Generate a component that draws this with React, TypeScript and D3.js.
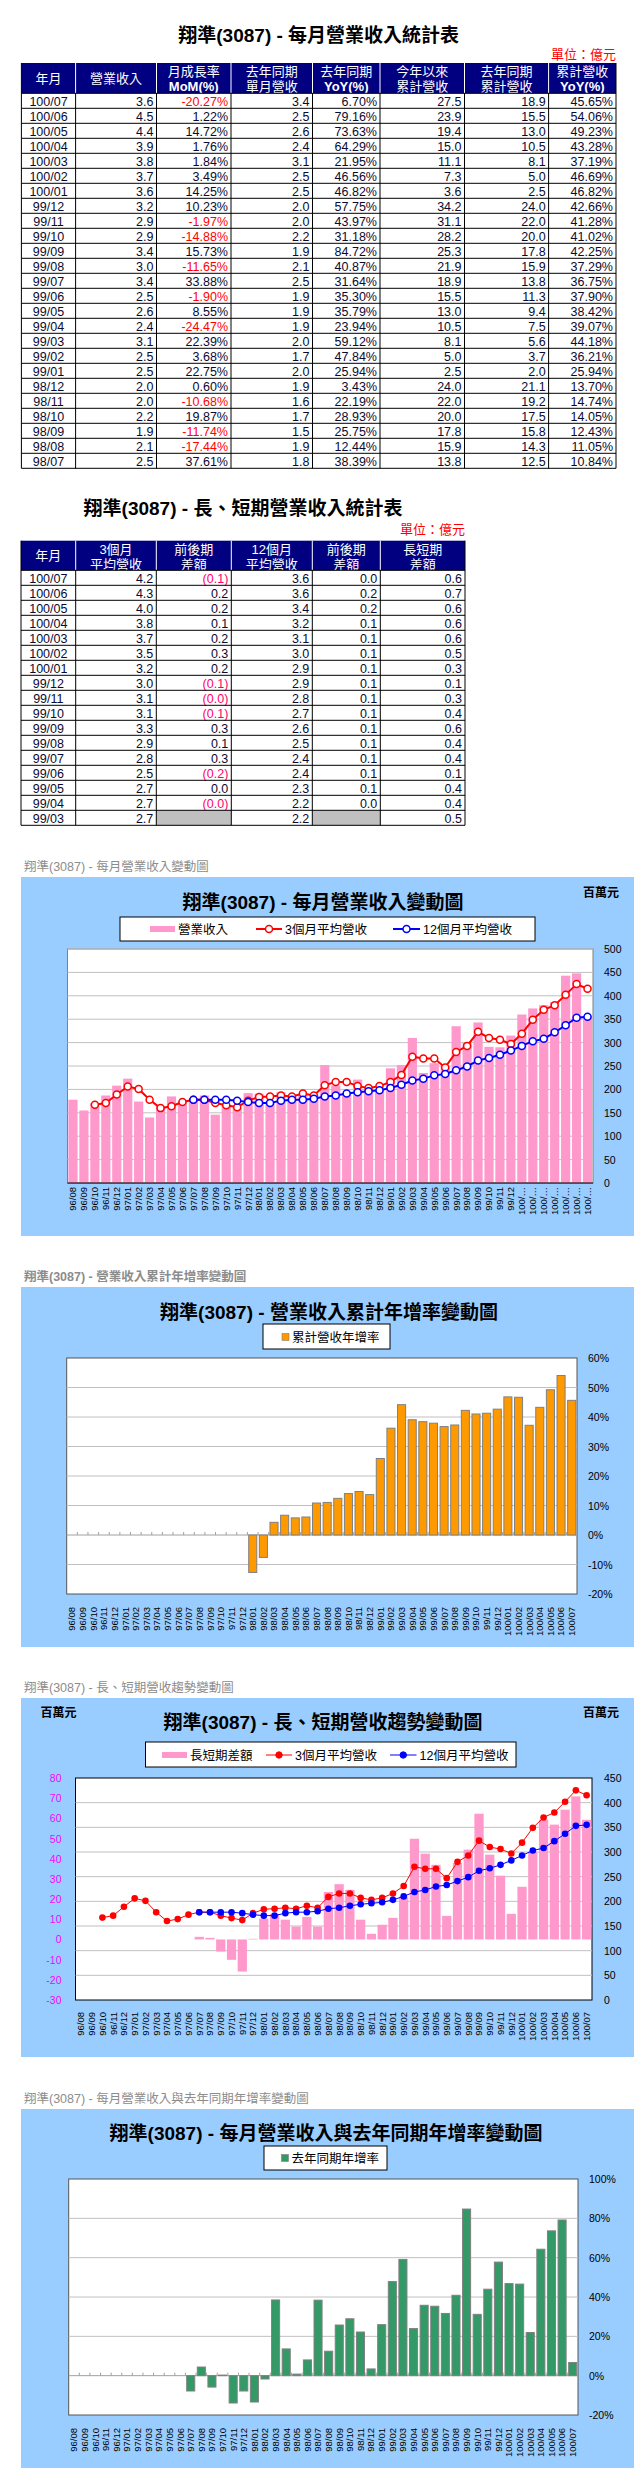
import React from 'react';
import * as d3 from 'd3';

// ---- table data (億元) ----
const t1Months = ['100/07','100/06','100/05','100/04','100/03','100/02','100/01','99/12','99/11','99/10','99/09','99/08','99/07','99/06','99/05','99/04','99/03','99/02','99/01','98/12','98/11','98/10','98/09','98/08','98/07'];
const t1Rev = [3.6,4.5,4.4,3.9,3.8,3.7,3.6,3.2,2.9,2.9,3.4,3.0,3.4,2.5,2.6,2.4,3.1,2.5,2.5,2.0,2.0,2.2,1.9,2.1,2.5];
const t1Mom = [-20.27,1.22,14.72,1.76,1.84,3.49,14.25,10.23,-1.97,-14.88,15.73,-11.65,33.88,-1.90,8.55,-24.47,22.39,3.68,22.75,0.60,-10.68,19.87,-11.74,-17.44,37.61];
const t1LastRev = [3.4,2.5,2.6,2.4,3.1,2.5,2.5,2.0,2.0,2.2,1.9,2.1,2.5,1.9,1.9,1.9,2.0,1.7,2.0,1.9,1.6,1.7,1.5,1.9,1.8];
const t1Yoy = [6.70,79.16,73.63,64.29,21.95,46.56,46.82,57.75,43.97,31.18,84.72,40.87,31.64,35.30,35.79,23.94,59.12,47.84,25.94,3.43,22.19,28.93,25.75,12.44,38.39];
const t1Cum = [27.5,23.9,19.4,15.0,11.1,7.3,3.6,34.2,31.1,28.2,25.3,21.9,18.9,15.5,13.0,10.5,8.1,5.0,2.5,24.0,22.0,20.0,17.8,15.9,13.8];
const t1LastCum = [18.9,15.5,13.0,10.5,8.1,5.0,2.5,24.0,22.0,20.0,17.8,15.9,13.8,11.3,9.4,7.5,5.6,3.7,2.0,21.1,19.2,17.5,15.8,14.3,12.5];
const t1CumYoy = [45.65,54.06,49.23,43.28,37.19,46.69,46.82,42.66,41.28,41.02,42.25,37.29,36.75,37.90,38.42,39.07,44.18,36.21,25.94,13.70,14.74,14.05,12.43,11.05,10.84];

const t2Months = t1Months.slice(0, 17);
const t2Avg3 = [4.2,4.3,4.0,3.8,3.7,3.5,3.2,3.0,3.1,3.1,3.3,2.9,2.8,2.5,2.7,2.7,2.7];
const t2Avg3Diff = [-0.1,0.2,0.2,0.1,0.2,0.3,0.2,-0.1,-0.04,-0.1,0.3,0.1,0.3,-0.2,0.02,-0.03,null];
const t2Avg12 = [3.6,3.6,3.4,3.2,3.1,3.0,2.9,2.9,2.8,2.7,2.6,2.5,2.4,2.4,2.3,2.2,2.2];
const t2Avg12Diff = [0.02,0.2,0.2,0.1,0.1,0.1,0.1,0.1,0.1,0.1,0.1,0.1,0.1,0.1,0.1,0.03,null];
const t2Gap = [0.6,0.7,0.6,0.6,0.6,0.5,0.3,0.1,0.3,0.4,0.6,0.4,0.4,0.1,0.4,0.4,0.5];

// ---- chart data (百萬元 / %) ----
const months = ['96/08','96/09','96/10','96/11','96/12',
  '97/01','97/02','97/03','97/04','97/05','97/06','97/07','97/08','97/09','97/10','97/11','97/12',
  '98/01','98/02','98/03','98/04','98/05','98/06','98/07','98/08','98/09','98/10','98/11','98/12',
  '99/01','99/02','99/03','99/04','99/05','99/06','99/07','99/08','99/09','99/10','99/11','99/12',
  '100/01','100/02','100/03','100/04','100/05','100/06','100/07'];
const revenue = [178,155,171,187,208,
  223,174,140,164,185,175,180,187,146,167,160,192,
  191,174,194,186,190,188,252,208,190,221,200,201,
  245,252,310,235,256,250,335,299,343,291,290,315,
  360,373,380,387,443,448,357];
const avg3 = [null,null,167,171,189,
  206,201,178,160,164,173,178,178,171,166,162,176,
  184,185,187,185,191,187,209,216,216,207,203,207,
  216,231,270,266,266,247,280,293,323,310,306,297,
  319,349,370,380,402,425,415];
const avg12 = [null,null,null,null,null,
  null,null,null,null,null,null,178,178,178,178,176,173,
  171,171,176,178,178,180,185,187,191,194,196,198,
  203,210,219,223,230,233,241,249,262,267,274,283,
  293,303,308,322,337,353,355];
const gap = [null,null,null,null,null,
  null,null,null,null,null,null,1.3,0.8,-6.0,-10.1,-15.9,0.3,
  10.4,12.6,9.8,6.4,11.2,6.4,23.5,27.4,24.6,9.8,2.8,7.3,
  10.7,21.3,49.9,42.5,37.0,11.7,37.9,44.5,62.3,42.0,31.6,12.7,
  26.1,43.6,59.3,56.9,64.3,70.9,59.3];
const cumYoy = [null,null,null,null,null,
  null,null,null,null,null,null,null,null,null,null,null,null,
  -12.7,-7.6,4.3,6.7,5.8,6.1,10.84,11.05,12.43,14.05,14.74,13.70,
  25.94,36.21,44.18,39.07,38.42,37.90,36.75,37.29,42.25,41.02,41.28,42.66,
  46.82,46.69,37.19,43.28,49.23,54.06,45.65];
const yoy = [null,null,null,null,null,
  null,null,null,null,null,null,-7.8,4.4,-5.8,0.3,-13.9,-7.8,
  -13.4,-1.7,38.5,13.6,0.8,8.0,38.39,12.44,25.75,28.93,22.19,3.43,
  25.94,47.84,59.12,23.94,35.79,35.30,31.64,40.87,84.72,31.18,43.97,57.75,
  46.82,46.56,21.95,64.29,73.63,79.16,6.70];

const revTicks = [0,50,100,150,200,250,300,350,400,450,500];
const cumTicks = [-20,-10,0,10,20,30,40,50,60];
const gapTicks = [-30,-20,-10,0,10,20,30,40,50,60,70,80];
const trendTicks = [0,50,100,150,200,250,300,350,400,450];
const yoyTicks = [-20,0,20,40,60,80,100];

const LATIN = "'Liberation Sans', Arial, sans-serif";
const MIXED = "'Liberation Sans', 'Noto Sans CJK TC', sans-serif";
const PANEL = '#99CCFF';
const PINK = '#FF99CC';
const TXT = '#0a0a30';

const f1 = (v: number) => v.toFixed(1);
const pct = (v: number) => v.toFixed(2) + '%';
const paren = (v: number) => (v < 0 ? `(${Math.abs(v).toFixed(1)})` : v.toFixed(1));

function Table({ x, top, headH, rowH, headers, cols, title, titleY, unitY }: any) {
  const right = x[x.length - 1];
  const n = cols[0].length;
  return (
    <g>
      <text x={(x[0] + right) / 2} y={titleY} textAnchor="middle" fontFamily={MIXED} fontSize={19} fontWeight="bold" fill="#000">{title}</text>
      <text x={right} y={unitY} textAnchor="end" fontFamily={MIXED} fontSize={13} fill="#FF0000">單位：億元</text>
      <rect x={x[0]} y={top} width={right - x[0]} height={headH} fill="#000080" />
      {headers.map((h: string[], i: number) => {
        const cx = (x[i] + x[i + 1]) / 2;
        return h.length === 1 ? (
          <text key={i} x={cx} y={top + headH / 2 + 4.5} textAnchor="middle" fontFamily={MIXED} fontSize={13} fill="#fff">{h[0]}</text>
        ) : (
          <g key={i}>
            <text x={cx} y={top + 13} textAnchor="middle" fontFamily={MIXED} fontSize={13} fill="#fff" fontWeight={/[A-Z]/.test(h[0]) ? 'bold' : 'normal'}>{h[0]}</text>
            <text x={cx} y={top + 28} textAnchor="middle" fontFamily={MIXED} fontSize={13} fill="#fff" fontWeight={/[A-Z]/.test(h[1]) ? 'bold' : 'normal'}>{h[1]}</text>
          </g>
        );
      })}
      {x.slice(1, -1).map((v: number, i: number) => (
        <line key={i} x1={v} x2={v} y1={top} y2={top + headH} stroke="#fff" strokeWidth={1} />
      ))}
      {d3.range(n).map((r) => {
        const y = top + headH + r * rowH;
        return (
          <g key={r}>
            {cols.map((c: any, ci: number) => {
              const cell = c[r];
              if (cell.gray) return <rect key={ci} x={x[ci]} y={y} width={x[ci + 1] - x[ci]} height={rowH} fill="#C0C0C0" />;
              return (
                <text key={ci} x={ci === 0 ? (x[0] + x[1]) / 2 : x[ci + 1] - 3} y={y + 12.2}
                  textAnchor={ci === 0 ? 'middle' : 'end'} fontFamily={LATIN} fontSize={12.5} fill={cell.color || TXT}>{cell.text}</text>
              );
            })}
          </g>
        );
      })}
      {d3.range(n + 1).map((r) => (
        <line key={r} x1={x[0]} x2={right} y1={top + headH + r * rowH} y2={top + headH + r * rowH} stroke="#000" />
      ))}
      {x.map((v: number, i: number) => (
        <line key={i} x1={v} x2={v} y1={i === 0 || i === x.length - 1 ? top : top + headH} y2={top + headH + n * rowH} stroke="#000" />
      ))}
    </g>
  );
}

function Frame({ cap, capBold, y0, y1, title, titleX, titleY }: any) {
  return (
    <g>
      <text x={24} y={y0 - 6} fontFamily={MIXED} fontSize={12.5} fill="#8c8c8c" fontWeight={capBold ? 'bold' : 'normal'}>{cap}</text>
      <rect x={21} y={y0} width={613} height={y1 - y0} fill={PANEL} />
      <text x={titleX} y={titleY + 7} textAnchor="middle" fontFamily={MIXED} fontSize={19} fontWeight="bold" fill="#000">{title}</text>
    </g>
  );
}

function XLabels({ x, labels, y }: any) {
  return (
    <g fontFamily={LATIN} fontSize={9.5} fill="#000">
      {months.map((m, i) => (
        <text key={m} textAnchor="end" transform={`translate(${x(m) + x.bandwidth() / 2 + 3.4},${y}) rotate(-90)`}>{labels[i]}</text>
      ))}
    </g>
  );
}

function LegendLine({ x1, x2, y, color, hollow, label, width }: any) {
  return (
    <g>
      <line x1={x1} x2={x2} y1={y} y2={y} stroke={color} strokeWidth={width} />
      <circle cx={(x1 + x2) / 2} cy={y} r={hollow ? 3.5 : 3.2} fill={hollow ? '#fff' : color} stroke={color} strokeWidth={hollow ? 1.5 : 1} />
      <text x={x2 + 3} y={y + 4.5} fontFamily={MIXED} fontSize={12.5} fill="#000">{label}</text>
    </g>
  );
}

function RevenueChart() {
  const p = { l: 67.5, r: 593, t: 949, b: 1183 };
  const x = d3.scaleBand().domain(months).range([p.l, p.r]);
  const y = d3.scaleLinear().domain([0, 500]).range([p.b, p.t]);
  const bw = x.bandwidth();
  const cx = (i: number) => x(months[i])! + bw / 2;
  const line = d3.line<number | null>().defined((d) => d != null).x((_, i) => cx(i)).y((d) => y(d as number));
  const labels = months.map((m) => (m.startsWith('100/') ? '100/…' : m));
  return (
    <g>
      <Frame cap="翔準(3087) - 每月營業收入變動圖" y0={877} y1={1236} title="翔準(3087) - 每月營業收入變動圖" titleX={323} titleY={902} />
      <text x={601} y={897} textAnchor="middle" fontFamily={MIXED} fontSize={12} fontWeight="bold">百萬元</text>
      <rect x={120} y={917} width={415} height={24} fill="#fff" stroke="#000" />
      <rect x={150} y={926} width={25} height={6} fill={PINK} />
      <text x={178} y={933.5} fontFamily={MIXED} fontSize={12.5}>營業收入</text>
      <LegendLine x1={256} x2={282} y={929} color="#FF0000" hollow label="3個月平均營收" width={2} />
      <LegendLine x1={393} x2={420} y={929} color="#0000FF" hollow label="12個月平均營收" width={2} />
      <rect x={p.l} y={p.t} width={p.r - p.l} height={p.b - p.t} fill="#fff" stroke="#808080" />
      {revTicks.slice(1).map((t) => (
        <line key={t} x1={p.l} x2={p.r} y1={y(t)} y2={y(t)} stroke="#C0C0C0" />
      ))}
      {revenue.map((v, i) => (
        <rect key={i} x={x(months[i])! + bw * 0.08} y={y(v)} width={bw * 0.84} height={y(0) - y(v)} fill={PINK} />
      ))}
      <line x1={p.l} x2={p.r} y1={p.b} y2={p.b} stroke="#000" />
      <path d={line(avg3)!} fill="none" stroke="#FF0000" strokeWidth={2} />
      <path d={line(avg12)!} fill="none" stroke="#0000FF" strokeWidth={2} />
      {avg3.map((v, i) => v != null && <circle key={'r' + i} cx={cx(i)} cy={y(v)} r={3.5} fill="#fff" stroke="#FF0000" strokeWidth={1.5} />)}
      {avg12.map((v, i) => v != null && <circle key={'b' + i} cx={cx(i)} cy={y(v)} r={3.5} fill="#fff" stroke="#0000FF" strokeWidth={1.5} />)}
      {revTicks.map((t) => (
        <text key={t} x={604} y={y(t) + 4} fontFamily={LATIN} fontSize={10.5}>{t}</text>
      ))}
      <XLabels x={x} labels={labels} y={p.b + 4} />
    </g>
  );
}

function PctBarChart({ data, ticks, domain, color, p, frame, legend, label }: any) {
  const x = d3.scaleBand().domain(months).range([p.l, p.r]);
  const y = d3.scaleLinear().domain(domain).range([p.b, p.t]);
  const bw = x.bandwidth();
  return (
    <g>
      <Frame {...frame} />
      <rect x={legend.x1} y={legend.y1} width={legend.x2 - legend.x1} height={legend.y2 - legend.y1} fill="#fff" stroke="#000" />
      <rect x={legend.sx} y={legend.sy - 3.5} width={7} height={7} fill={color} stroke="#808080" strokeWidth={0.6} />
      <text x={legend.sx + 10} y={legend.sy + 4.5} fontFamily={MIXED} fontSize={12.5}>{label}</text>
      <rect x={p.l} y={p.t} width={p.r - p.l} height={p.b - p.t} fill="#fff" stroke="#555" />
      {ticks.filter((t: number) => t !== 0 && t !== domain[0] && t !== domain[1]).map((t: number) => (
        <line key={t} x1={p.l} x2={p.r} y1={y(t)} y2={y(t)} stroke="#C0C0C0" />
      ))}
      <line x1={p.l} x2={p.r} y1={y(0)} y2={y(0)} stroke="#A0A0A0" />
      {months.map((m, i) => i > 0 && (
        <line key={m} x1={x(m)!} x2={x(m)!} y1={y(0)} y2={y(0) - 3} stroke="#A0A0A0" />
      ))}
      {data.map((v: number | null, i: number) => v != null && (
        <rect key={i} x={x(months[i])! + bw * 0.12} y={y(Math.max(v, 0))} width={bw * 0.76}
          height={Math.abs(y(v) - y(0))} fill={color} stroke="#808080" strokeWidth={1} />
      ))}
      {ticks.map((t: number) => (
        <text key={t} x={p.r + 11} y={y(t) + 4} fontFamily={LATIN} fontSize={10.5}>{t}%</text>
      ))}
      <XLabels x={x} labels={months} y={p.b + 13} />
    </g>
  );
}

function TrendChart() {
  const p = { l: 75.5, r: 592, t: 1778, b: 2000 };
  const x = d3.scaleBand().domain(months).range([p.l, p.r]);
  const yl = d3.scaleLinear().domain([-30, 80]).range([p.b, p.t]);
  const yr = d3.scaleLinear().domain([0, 450]).range([p.b, p.t]);
  const bw = x.bandwidth();
  const cx = (i: number) => x(months[i])! + bw / 2;
  const line = d3.line<number | null>().defined((d) => d != null).x((_, i) => cx(i)).y((d) => yr(d as number));
  return (
    <g>
      <Frame cap="翔準(3087) -  長、短期營收趨勢變動圖" y0={1698} y1={2057} title="翔準(3087) -  長、短期營收趨勢變動圖" titleX={323} titleY={1722} />
      <text x={58.6} y={1717} textAnchor="middle" fontFamily={MIXED} fontSize={12} fontWeight="bold">百萬元</text>
      <text x={601} y={1717} textAnchor="middle" fontFamily={MIXED} fontSize={12} fontWeight="bold">百萬元</text>
      <rect x={145.5} y={1742} width={370.5} height={25} fill="#fff" stroke="#000" />
      <rect x={162} y={1752} width={25} height={6} fill={PINK} />
      <text x={190} y={1759.5} fontFamily={MIXED} fontSize={12.5}>長短期差額</text>
      <LegendLine x1={266} x2={292} y={1755} color="#FF0000" label="3個月平均營收" width={1} />
      <LegendLine x1={390} x2={416.5} y={1755} color="#0000FF" label="12個月平均營收" width={1} />
      <rect x={p.l} y={p.t} width={p.r - p.l} height={p.b - p.t} fill="#fff" stroke="#000" />
      {trendTicks.slice(1, -1).map((t) => (
        <line key={t} x1={p.l} x2={p.r} y1={yr(t)} y2={yr(t)} stroke="#C0C0C0" />
      ))}
      {gap.map((v, i) => v != null && (
        <rect key={i} x={x(months[i])! + bw * 0.07} y={yl(Math.max(v, 0))} width={bw * 0.86} height={Math.abs(yl(v) - yl(0))} fill={PINK} />
      ))}
      <path d={line(avg3)!} fill="none" stroke="#FF0000" strokeWidth={1} />
      <path d={line(avg12)!} fill="none" stroke="#0000FF" strokeWidth={1} />
      {avg3.map((v, i) => v != null && <circle key={'r' + i} cx={cx(i)} cy={yr(v)} r={3.3} fill="#FF0000" />)}
      {avg12.map((v, i) => v != null && <circle key={'b' + i} cx={cx(i)} cy={yr(v)} r={3.3} fill="#0000FF" />)}
      {gapTicks.map((t) => (
        <text key={t} x={61.5} y={yl(t) + 4} textAnchor="end" fontFamily={LATIN} fontSize={10.5} fill="#FF00FF">{t}</text>
      ))}
      {trendTicks.map((t) => (
        <text key={t} x={604} y={yr(t) + 4} fontFamily={LATIN} fontSize={10.5}>{t}</text>
      ))}
      <XLabels x={x} labels={months} y={p.b + 12} />
    </g>
  );
}

export default function App() {
  const t1Cols = [
    t1Months.map((m) => ({ text: m })),
    t1Rev.map((v) => ({ text: f1(v) })),
    t1Mom.map((v) => ({ text: pct(v), color: v < 0 ? '#FF0000' : undefined })),
    t1LastRev.map((v) => ({ text: f1(v) })),
    t1Yoy.map((v) => ({ text: pct(v) })),
    t1Cum.map((v) => ({ text: f1(v) })),
    t1LastCum.map((v) => ({ text: f1(v) })),
    t1CumYoy.map((v) => ({ text: pct(v) })),
  ];
  const diffCell = (v: number | null) => (v == null ? { gray: true } : { text: paren(v), color: v < 0 ? '#FF0066' : undefined });
  const t2Cols = [
    t2Months.map((m) => ({ text: m })),
    t2Avg3.map((v) => ({ text: f1(v) })),
    t2Avg3Diff.map(diffCell),
    t2Avg12.map((v) => ({ text: f1(v) })),
    t2Avg12Diff.map(diffCell),
    t2Gap.map((v) => ({ text: f1(v) })),
  ];
  return (
    <svg width={634} height={2491} style={{ position: 'absolute', left: 0, top: 0, background: '#fff' }}>
      <Table x={[21.4, 75.6, 156.5, 231, 312.5, 380, 464.5, 548.6, 616]} top={63} headH={30.3} rowH={15}
        headers={[['年月'], ['營業收入'], ['月成長率', 'MoM(%)'], ['去年同期', '單月營收'], ['去年同期', 'YoY(%)'], ['今年以來', '累計營收'], ['去年同期', '累計營收'], ['累計營收', 'YoY(%)']]}
        cols={t1Cols} title="翔準(3087) - 每月營業收入統計表" titleY={42} unitY={58.5} />
      <Table x={[21, 75.7, 156.3, 231.3, 312.3, 380.3, 465]} top={540.7} headH={29.6} rowH={15}
        headers={[['年月'], ['3個月', '平均營收'], ['前後期', '差額'], ['12個月', '平均營收'], ['前後期', '差額'], ['長短期', '差額']]}
        cols={t2Cols} title="翔準(3087) - 長、短期營業收入統計表" titleY={515} unitY={533.5} />
      <RevenueChart />
      <PctBarChart data={cumYoy} ticks={cumTicks} domain={[-20, 60]} color="#FF9900" label="累計營收年增率"
        p={{ l: 66.7, r: 577, t: 1358, b: 1594 }}
        frame={{ cap: '翔準(3087) -  營業收入累計年增率變動圖', capBold: true, y0: 1287, y1: 1647, title: '翔準(3087) -  營業收入累計年增率變動圖', titleX: 329, titleY: 1312 }}
        legend={{ x1: 263, x2: 390, y1: 1324, y2: 1349, sx: 282, sy: 1337 }} />
      <TrendChart />
      <PctBarChart data={yoy} ticks={yoyTicks} domain={[-20, 100]} color="#339966" label="去年同期年增率"
        p={{ l: 68.7, r: 578, t: 2179, b: 2415 }}
        frame={{ cap: '翔準(3087) -  每月營業收入與去年同期年增率變動圖', y0: 2109, y1: 2468, title: '翔準(3087) -  每月營業收入與去年同期年增率變動圖', titleX: 326, titleY: 2133 }}
        legend={{ x1: 264, x2: 387, y1: 2146, y2: 2170, sx: 281.5, sy: 2158 }} />
    </svg>
  );
}
